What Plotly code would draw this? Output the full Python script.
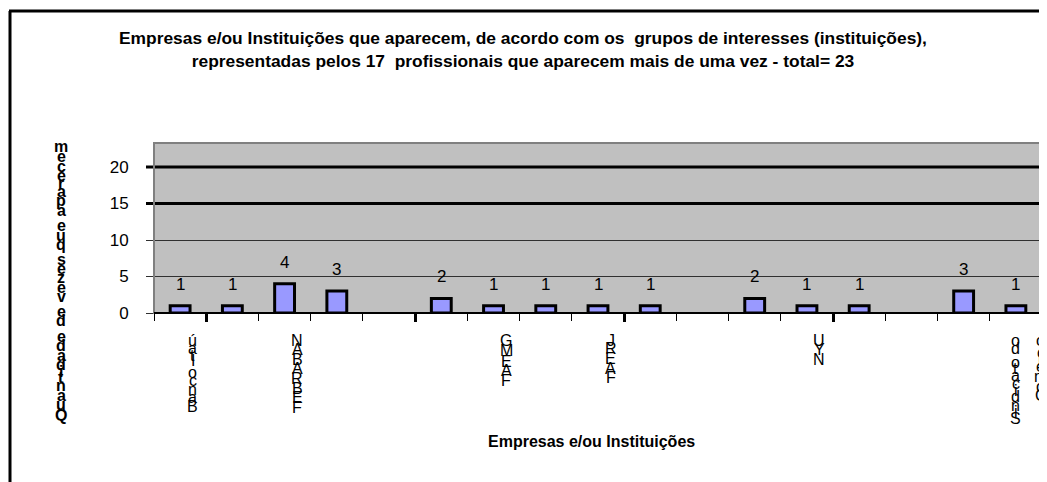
import plotly.graph_objects as go

# ---------------- data ----------------
title_lines = [
    "Empresas e/ou Instituições que aparecem, de acordo com os  grupos de interesses (instituições),",
    "representadas pelos 17  profissionais que aparecem mais de uma vez - total= 23",
]
x_title = "Empresas e/ou Instituições"
y_title = "Quantidade de vezes que aparecem"

categories = list(range(1, 18))
category_labels = [
    "Banco Itaú", "", "FEBRABAN", "", "", "", "FAEMG", "", "FAERJ", "",
    "", "", "NYU", "", "", "", "Sindicato do\nComércio",
]
values = [1, 1, 4, 3, None, 2, 1, 1, 1, 1, None, 2, 1, 1, None, 3, 1]

y_ticks = [0, 5, 10, 15, 20]
heavy_grid = [15, 20]
group_bounds = [1.5, 5.5, 9.5, 13.5, 17.5]

# ---------------- layout geometry ----------------
PAGE_W, PAGE_H = 1047, 482
OFF = 8  # default page body margin
W, H = PAGE_W - OFF, PAGE_H - OFF
# plot area in page pixels
L, R, T, B = 154, 1042, 143, 313
FONT = "Liberation Sans Narrow, Arial Narrow, Liberation Sans, Arial, sans-serif"


def px2x(px):
    return (px - L) / (R - L)


def py2y(py):
    return (B - py) / (B - T)


# approximate Arial advance widths (em) used for stacked vertical text
WID = {'i': .222, 'l': .222, 'j': .222, 't': .278, 'f': .278, 'r': .333, ' ': .278,
       'I': .278, 'm': .833, 'w': .722, 'M': .833, 'W': .944, 'c': .5, 'k': .5,
       's': .5, 'v': .5, 'x': .5, 'y': .5, 'z': .5, 'N': .722, 'R': .722, 'C': .722,
       'G': .778, 'O': .778, 'Q': .778, 'U': .722, 'D': .722, 'H': .722, 'F': .611,
       'J': .5, 'L': .556, 'Y': .667, 'E': .667, 'B': .667, 'A': .667, 'S': .667}


def w(ch):
    return WID.get(ch, .556)


def stacked(text, c0, k):
    """Characters of text read bottom-to-top; returns (char, offset from top char center)."""
    chars = list(reversed(text))
    out, off = [], 0.0
    for j, ch in enumerate(chars):
        if j > 0:
            off += c0 + k * (w(chars[j - 1]) + w(ch)) / 2
        out.append((ch, off))
    return out


fig = go.Figure()
fig.add_trace(go.Bar(
    x=categories, y=values, width=0.38,
    marker=dict(color="#9999FF", line=dict(color="black", width=3)),
    hoverinfo="skip",
))

annotations = []
# title
annotations.append(dict(
    text="<b>" + "<br>".join(title_lines) + "</b>", xref="paper", yref="paper",
    x=px2x(523), y=py2y(50), xanchor="center", yanchor="middle", showarrow=False,
    font=dict(family=FONT, size=17.4, color="black"),
))
# x title
annotations.append(dict(
    text="<b>" + x_title + "</b>", xref="paper", yref="paper",
    x=px2x(591), y=py2y(441), xanchor="center", yanchor="middle", showarrow=False,
    font=dict(family=FONT, size=16, color="black"),
))
# y title (stacked upright characters, reading bottom to top)
for ch, off in stacked(y_title, 3.0, 11.5):
    if ch == " ":
        continue
    annotations.append(dict(
        text="<b>" + ch + "</b>", xref="paper", yref="paper",
        x=px2x(61), y=py2y(146), xanchor="center", yanchor="middle",
        yshift=-off, showarrow=False, font=dict(family=FONT, size=16, color="black"),
    ))
# category labels (stacked, reading bottom to top)
for cat, lab in zip(categories, category_labels):
    if not lab:
        continue
    lines = lab.split("\n")
    n = len(lines)
    for li, line in enumerate(lines):
        xs = 12.5 + (li - (n - 1) / 2) * 25
        for ch, off in stacked(line, 2.5, 10.5):
            if ch == " ":
                continue
            annotations.append(dict(
                text=ch, xref="x", yref="paper", x=cat, y=0,
                xanchor="center", yanchor="middle", xshift=xs, yshift=-(27 + off),
                showarrow=False, font=dict(family=FONT, size=16, color="black"),
            ))
# data labels
for cat, v in zip(categories, values):
    if v is None:
        continue
    annotations.append(dict(
        text=str(v), xref="x", yref="y", x=cat, y=v, xanchor="center",
        yanchor="bottom", yshift=10, showarrow=False,
        font=dict(family=FONT, size=17, color="black"),
    ))

shapes = []
# heavy grid lines
for g in heavy_grid:
    shapes.append(dict(type="line", xref="paper", yref="y", x0=px2x(L - 8), x1=1,
                       y0=g, y1=g, line=dict(color="black", width=3), layer="above"))
# plot area border
shapes.append(dict(type="rect", xref="paper", yref="paper", x0=0, x1=1, y0=0, y1=1,
                   line=dict(color="#808080", width=2), layer="above"))
# category axis line
shapes.append(dict(type="line", xref="paper", yref="paper", x0=0, x1=1, y0=0, y1=0,
                   line=dict(color="black", width=2), layer="above"))
# chart frame (left + top)
shapes.append(dict(type="line", xref="paper", yref="paper", x0=px2x(10), x1=px2x(10),
                   y0=py2y(11), y1=py2y(PAGE_H + 5), line=dict(color="black", width=3)))
shapes.append(dict(type="line", xref="paper", yref="paper", x0=px2x(9), x1=px2x(PAGE_W + 5),
                   y0=py2y(11), y1=py2y(11), line=dict(color="black", width=3)))

fig.update_layout(
    width=W, height=H,
    margin=dict(l=L - OFF, r=PAGE_W - R, t=T - OFF, b=PAGE_H - B, pad=0),
    paper_bgcolor="white", plot_bgcolor="#C0C0C0",
    showlegend=False, bargap=0.5,
    annotations=annotations, shapes=shapes,
    font=dict(family=FONT, color="black"),
)
fig.update_xaxes(
    range=[0.5, 17.5], tickmode="array", tickvals=group_bounds, showticklabels=False,
    ticks="outside", ticklen=8, tickwidth=3, tickcolor="black",
    showgrid=False, zeroline=False, showline=False,
    minor=dict(tickmode="linear", tick0=0.5, dtick=1, ticks="outside", ticklen=7,
               tickwidth=1, tickcolor="black", showgrid=False),
)
fig.update_yaxes(
    range=[0, 23.29], tickmode="array", tickvals=y_ticks,
    ticks="outside", ticklen=7, tickwidth=1, tickcolor="#303030",
    showgrid=True, gridcolor="#303030", gridwidth=1, zeroline=False, showline=False,
    tickfont=dict(family=FONT, size=17, color="black"), ticklabelstandoff=14,
)

fig.write_html("out.html")
